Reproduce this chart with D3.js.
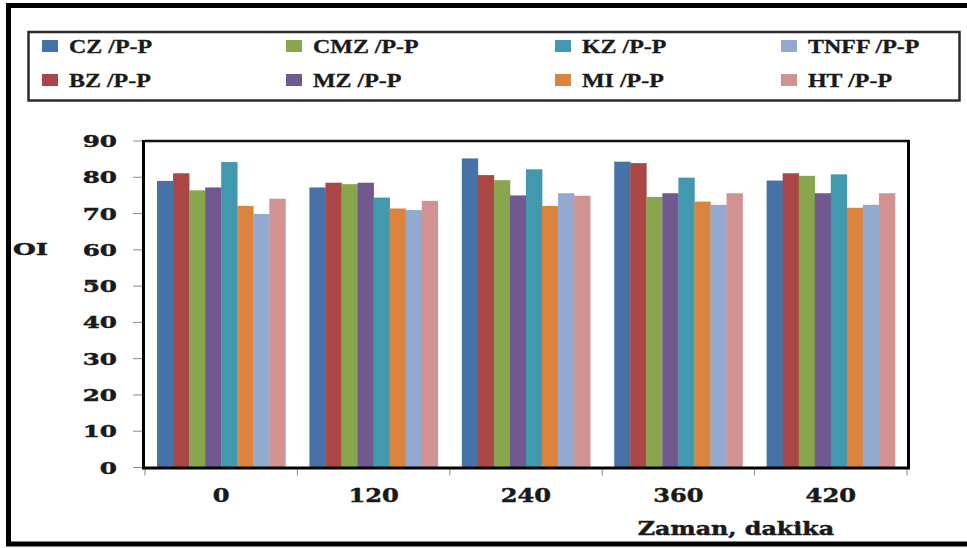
<!DOCTYPE html>
<html>
<head>
<meta charset="utf-8">
<script src="https://cdn.jsdelivr.net/npm/d3@7"></script>
<style>
  html, body { margin: 0; padding: 0; background: #fff; }
  svg { display: block; }
  .tick-label { font-family: 'DejaVu Serif', serif; font-weight: bold; fill: #1a1a1a; stroke: #1a1a1a; stroke-width: 0.45px; }
  .legend-label { font-family: 'Liberation Serif', 'Times New Roman', serif; font-weight: bold; fill: #1a1a1a; stroke: #1a1a1a; stroke-width: 0.3px; }
</style>
</head>
<body>
<div id="chart"></div>
<script>
const categories = ['0', '120', '240', '360', '420'];
const seriesNames = ['CZ /P-P', 'BZ /P-P', 'CMZ /P-P', 'MZ /P-P', 'KZ /P-P', 'MI /P-P', 'TNFF /P-P', 'HT /P-P'];
const seriesColors = ['#4572A7', '#AA4643', '#89A54E', '#71588F', '#4198AF', '#DB843D', '#93A9CF', '#D19392'];

const CZ = [79.0, 77.2, 85.2, 84.3, 79.1];
const BZ = [81.1, 78.5, 80.6, 83.9, 81.1];
const CMZ = [76.4, 78.1, 79.2, 74.6, 80.4];
const MZ = [77.2, 78.5, 75.0, 75.6, 75.6];
const KZ = [84.2, 74.4, 82.2, 79.9, 80.8];
const MI = [72.1, 71.4, 72.1, 73.3, 71.6];
const TNFF = [69.9, 71.0, 75.6, 72.4, 72.4];
const HT = [74.1, 73.5, 74.9, 75.6, 75.6];

const seriesValues = [CZ, BZ, CMZ, MZ, KZ, MI, TNFF, HT];
const yTicks = [0, 10, 20, 30, 40, 50, 60, 70, 80, 90];

const width = 967;
const height = 548;
const plot = {left: 145, right: 907, top: 141, bottom: 467.5};

// stretch text horizontally, the source image is wide
function stretch(sel, k) {
    sel.each(function() {
        let w = this.getComputedTextLength();
        d3.select(this).attr('textLength', w * k).attr('lengthAdjust', 'spacingAndGlyphs');
    });
}

const svg = d3.select('#chart').append('svg')
    .attr('width', width)
    .attr('height', height);

// outer frame (right side falls off the picture)
svg.append('rect')
    .attr('x', 8.5).attr('y', 5.5)
    .attr('width', 990).attr('height', 538.5)
    .attr('fill', 'none')
    .attr('stroke', '#000')
    .attr('stroke-width', 5);

// legend
svg.append('rect')
    .attr('x', 28.5).attr('y', 32)
    .attr('width', 931).attr('height', 68.5)
    .attr('fill', 'none')
    .attr('stroke', '#2b2b2b')
    .attr('stroke-width', 2.5);

const legendCols = [42, 286, 555, 781];
const legendRows = [46, 80];

const legend = svg.append('g').attr('class', 'legend');
seriesNames.forEach((name, i) => {
    let col = Math.floor(i / 2);
    let row = i % 2;
    let g = legend.append('g')
        .attr('transform', 'translate(' + legendCols[col] + ',' + legendRows[row] + ')');
    g.append('rect')
        .attr('x', 0).attr('y', -6)
        .attr('width', 16).attr('height', 12)
        .attr('fill', seriesColors[i]);
    g.append('text')
        .attr('class', 'legend-label')
        .attr('x', 27)
        .attr('y', 6.5)
        .style('font-size', '18px')
        .text(name)
        .call(stretch, 1.33);
});

// scales
const x0 = d3.scaleBand()
    .domain(categories)
    .range([plot.left, plot.right])
    .padding(0);

const x1 = d3.scaleBand()
    .domain(d3.range(seriesNames.length))
    .range([0, x0.bandwidth()])
    .paddingInner(0)
    .paddingOuter(0.75);

const y = d3.scaleLinear()
    .domain([0, 90])
    .range([plot.bottom, plot.top]);

// bars
const groups = svg.selectAll('.group')
    .data(categories)
    .enter().append('g')
    .attr('class', 'group')
    .attr('transform', d => 'translate(' + x0(d) + ',0)');

groups.selectAll('.bar')
    .data((d, ci) => seriesValues.map((vals, si) => ({series: si, value: vals[ci]})))
    .enter().append('rect')
    .attr('class', 'bar')
    .attr('x', d => x1(d.series))
    .attr('y', d => y(d.value))
    .attr('width', x1.bandwidth() + 0.3)
    .attr('height', d => y(0) - y(d.value))
    .attr('fill', d => seriesColors[d.series]);

// y axis ticks and labels
const yAxis = svg.append('g').attr('class', 'y-axis');
yAxis.selectAll('line')
    .data(yTicks)
    .enter().append('line')
    .attr('x1', 133).attr('x2', plot.left - 1)
    .attr('y1', d => y(d)).attr('y2', d => y(d))
    .attr('stroke', '#8a8a8a')
    .attr('stroke-width', 1);
yAxis.selectAll('text')
    .data(yTicks)
    .enter().append('text')
    .attr('class', 'tick-label')
    .attr('x', 117)
    .attr('y', d => y(d) + 6)
    .attr('text-anchor', 'end')
    .style('font-size', '17px')
    .text(d => d)
    .call(stretch, 1.45);

// x axis ticks and labels
const xTickPos = categories.map(c => x0(c)).concat([plot.right]);
svg.append('g').selectAll('line')
    .data(xTickPos)
    .enter().append('line')
    .attr('x1', d => d).attr('x2', d => d)
    .attr('y1', plot.bottom).attr('y2', plot.bottom + 8)
    .attr('stroke', '#8a8a8a')
    .attr('stroke-width', 1);

svg.append('g').selectAll('text')
    .data(categories)
    .enter().append('text')
    .attr('class', 'tick-label')
    .attr('x', d => x0(d) + x0.bandwidth() / 2)
    .attr('y', 502)
    .attr('text-anchor', 'middle')
    .style('font-size', '18px')
    .text(d => d)
    .call(stretch, 1.34);

// plot frame
svg.append('line')
    .attr('x1', plot.left).attr('x2', plot.right + 2)
    .attr('y1', plot.top).attr('y2', plot.top)
    .attr('stroke', '#111').attr('stroke-width', 2.5);
svg.append('line')
    .attr('x1', plot.right + 1.5).attr('x2', plot.right + 1.5)
    .attr('y1', plot.top - 1).attr('y2', plot.bottom + 1.5)
    .attr('stroke', '#000').attr('stroke-width', 3);
svg.append('line')
    .attr('x1', plot.left - 1.5).attr('x2', plot.left - 1.5)
    .attr('y1', plot.top - 1).attr('y2', plot.bottom + 1.5)
    .attr('stroke', '#000').attr('stroke-width', 3);
svg.append('line')
    .attr('x1', plot.left - 3).attr('x2', plot.right + 3)
    .attr('y1', plot.bottom + 0.5).attr('y2', plot.bottom + 0.5)
    .attr('stroke', '#000').attr('stroke-width', 3);

// axis titles
svg.append('text')
    .attr('class', 'tick-label')
    .attr('x', 13)
    .attr('y', 255)
    .style('font-size', '16px')
    .attr('textLength', 35)
    .attr('lengthAdjust', 'spacingAndGlyphs')
    .text('OI');

svg.append('text')
    .attr('class', 'tick-label')
    .attr('x', 736)
    .attr('y', 535)
    .attr('text-anchor', 'middle')
    .style('font-size', '18px')
    .text('Zaman, dakika')
    .call(stretch, 1.32);
</script>
</body>
</html>
